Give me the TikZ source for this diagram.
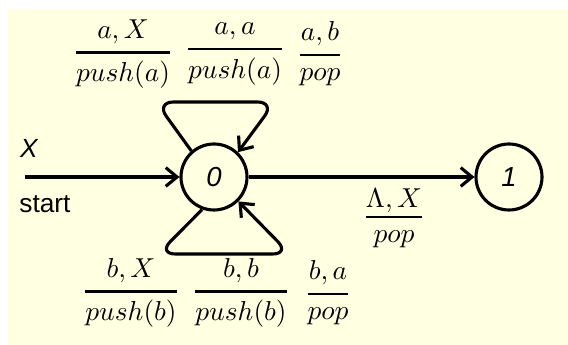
\documentclass[tikz,border=0pt]{standalone}
\usepackage{amsmath}
\usepackage{fontspec}
\setsansfont{Liberation Sans}
\usepackage{xcolor}
\definecolor{cream}{RGB}{255, 255, 225}
\usetikzlibrary{arrows.meta, positioning}
\newcommand{\trfrac}[2]{$\genfrac{}{}{1pt}{0}{\raisebox{-2pt}[\height][\depth]{$#1$}}{#2}$}

\begin{document}
\begin{tikzpicture}[
    x=0.4pt, y=0.4pt,
    >={Straight Barb[length=4.5pt, width=7.5pt]},
    state/.style={draw, circle, line width=1.25pt, minimum size=26.4pt, inner sep=0pt, font=\sffamily\itshape\fontsize{11}{13}\selectfont},
    trans/.style={line width=1.25pt, ->},
    loopline/.style={trans, rounded corners=7pt},
    lbl/.style={font=\fontsize{11}{13}\selectfont, inner sep=0pt},
    side/.style={font=\sffamily\fontsize{10.5}{12}\selectfont, inner sep=0pt}
]

\useasboundingbox (-214,177) rectangle (354,-168);
\fill[cream] (-206,168) rectangle (354,-168);

% ==================== STATES ====================
\node[state] (q0) at (0,0) {0};
\node[state] (q1) at (295,0) {1};

% ==================== START ====================
\coordinate (s) at (-189,0);
\draw[trans] (s) -- (q0);
\node[side] (xlbl) at (-185,29) {\itshape X};
\node[side] (startlbl) at (-169,-27) {start};

% ==================== LOOPS ====================
\coordinate (tl) at (-58,75);
\coordinate (tr) at (61,75);
\draw[loopline] (q0.131) -- (tl) -- (tr) -- (q0.46);

\coordinate (bl) at (-56,-77);
\coordinate (br) at (76,-77);
\draw[loopline] (q0.250) -- (bl) -- (br) -- (q0.-45);

\draw[trans] (q0) -- (q1);

% ==================== LABELS ====================
\node[lbl] (ta1) at (-91,123) {\trfrac{a, X}{push(a)}};
\node[lbl] (ta2) at (21,123) {\trfrac{a, a}{push(a)}};
\node[lbl] (ta3) at (106,123) {\trfrac{a, b}{pop}};

\node[lbl] (tb1) at (-83,-116) {\trfrac{b, X}{push(b)}};
\node[lbl] (tb2) at (27,-116) {\trfrac{b, b}{push(b)}};
\node[lbl] (tb3) at (114,-116) {\trfrac{b, a}{pop}};

\node[lbl] (tl1) at (180,-39) {\trfrac{\Lambda, X}{pop}};

\end{tikzpicture}
\end{document}
